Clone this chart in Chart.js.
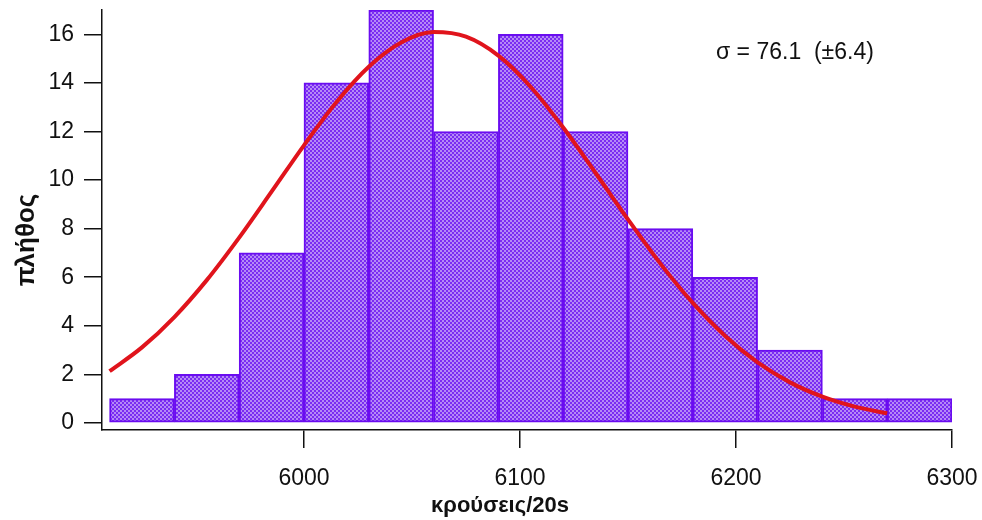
<!DOCTYPE html>
<html>
<head>
<meta charset="utf-8">
<script src="https://cdn.jsdelivr.net/npm/chart.js@4.4.1/dist/chart.umd.min.js"></script>
<style>
  html, body { margin: 0; padding: 0; background: #fff; }
  #wrap { width: 982px; height: 520px; }
</style>
</head>
<body>
<div id="wrap"><canvas id="hist" width="982" height="520"></canvas></div>
<script>
// histogram bins (centre of each 30-count bin) and counts
const binCentres = [5925, 5955, 5985, 6015, 6045, 6075, 6105, 6135, 6165, 6195, 6225, 6255, 6285];
const binCounts = [1, 2, 7, 14, 17, 12, 16, 12, 8, 6, 3, 1, 1];

// fitted gaussian
const fitX = [5910, 5925, 5940, 5955, 5970, 5985, 6000, 6015, 6030, 6045, 6060, 6075, 6090,
  6105, 6120, 6135, 6150, 6165, 6180, 6195, 6210, 6225, 6240, 6255, 6270];
const fitY = [2.13, 3.11, 4.36, 5.88, 7.63, 9.52, 11.43, 13.2, 14.66, 15.66, 16.09, 15.9, 15.12,
  13.83, 12.16, 10.29, 8.38, 6.56, 4.94, 3.58, 2.49, 1.67, 1.08, 0.67, 0.4];

const xTicks = [6000, 6100, 6200, 6300];
const yTicks = [0, 2, 4, 6, 8, 10, 12, 14, 16];
const sigmaLabel = "σ = 76.1  (±6.4)";
const xTitle = "κρούσεις/20s";
const yTitle = "πλήθος";

// checkered purple fill
const pc = document.createElement("canvas");
pc.width = 4; pc.height = 4;
const pctx = pc.getContext("2d");
pctx.fillStyle = "#b58af6";
pctx.fillRect(0, 0, 4, 4);
pctx.fillStyle = "#7a2cf2";
pctx.fillRect(0, 0, 2, 2);
pctx.fillRect(2, 2, 2, 2);
const ctxMain = document.getElementById("hist").getContext("2d");
const checker = ctxMain.createPattern(pc, "repeat");

const fam = "'Liberation Sans', Arial, sans-serif";

// sigma note and the two axis titles (placed off-centre like the original)
const extraText = {
  id: "extraText",
  afterDraw(chart) {
    const c = chart.ctx;
    c.save();
    c.fillStyle = "#111";
    c.textBaseline = "middle";
    c.font = "23px " + fam;
    c.fillText(sigmaLabel, 716, 53);
    c.textAlign = "center";
    c.font = "bold 22px " + fam;
    c.fillText(xTitle, 500, 506);
    c.translate(27, 240);
    c.rotate(-Math.PI / 2);
    c.font = "bold 26px " + fam;
    c.fillText(yTitle, 0, 0);
    c.restore();
  }
};

const axisFont = { family: fam, size: 23 };

new Chart(ctxMain, {
  plugins: [extraText],
  data: {
    datasets: [
      {
        type: "line",
        order: 0,
        data: fitX.map((x, i) => ({ x: x, y: fitY[i] })),
        borderColor: "#e0141c",
        borderWidth: 4,
        pointRadius: 0,
        cubicInterpolationMode: "monotone",
        fill: false,
      },
      {
        type: "bar",
        order: 1,
        data: binCentres.map((x, i) => ({ x: x, y: binCounts[i] })),
        backgroundColor: checker,
        borderColor: "#6a0cf0",
        borderWidth: 2,
        borderSkipped: false,
        barPercentage: 1,
        categoryPercentage: 1,
      },
    ],
  },
  options: {
    responsive: false,
    animation: false,
    layout: { padding: { top: 10, right: 30, left: 0, bottom: 0 } },
    plugins: {
      legend: { display: false },
      tooltip: { enabled: false },
    },
    scales: {
      x: {
        type: "linear",
        offset: false,
        min: 5906.5,
        max: 6300,
        afterBuildTicks: (s) => { s.ticks = xTicks.map((v) => ({ value: v })); },
        afterFit: (s) => { s.height = 90; s.paddingLeft = 0; s.paddingRight = 0; },
        grid: { offset: false, drawOnChartArea: false, drawTicks: true, tickLength: 18, color: "#111", lineWidth: 1.5 },
        border: { display: true, color: "#111", width: 1.5 },
        ticks: { color: "#111", font: axisFont, padding: 17, maxRotation: 0, callback: (v) => String(v) },
      },
      y: {
        min: -0.29,
        max: 17,
        afterBuildTicks: (s) => { s.ticks = yTicks.map((v) => ({ value: v })); },
        afterFit: (s) => { s.width = 102; s.paddingTop = 0; s.paddingBottom = 0; },
        grid: { drawOnChartArea: false, drawTicks: true, tickLength: 18, color: "#111", lineWidth: 1.5 },
        border: { display: true, color: "#111", width: 1.5 },
        ticks: { color: "#111", font: axisFont, padding: 10 },
      },
    },
  },
});
</script>
</body>
</html>
